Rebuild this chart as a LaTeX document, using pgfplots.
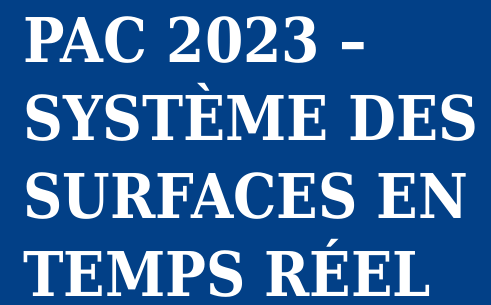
\documentclass[border=0pt]{standalone}
\usepackage{pgfplots}
\pgfplotsset{compat=1.18}
\usepackage{fontspec}
\setmainfont{DejaVu Serif}
\definecolor{bg}{RGB}{2,64,135}
\newcommand\fitline[2]{%
  \setbox0\hbox{\fontsize{61.7}{70}\bfseries #2}%
  \pgfmathsetmacro\sx{#1/\the\wd0}%
  \scalebox{\sx}[1]{\box0}}
\begin{document}
\begin{tikzpicture}
\begin{axis}[
  scale only axis, width=491pt, height=305pt,
  xmin=0, xmax=491, ymin=0, ymax=305,
  axis lines=none, ticks=none,
  axis background/.style={fill=bg},
  clip=false,
]
\node[anchor=base west, inner sep=0, text=white] at (axis cs:23,242) {\fitline{344pt}{PAC 2023 –}};
\node[anchor=base west, inner sep=0, text=white] at (axis cs:23,164) {\fitline{455pt}{SYSTÈME DES}};
\node[anchor=base west, inner sep=0, text=white] at (axis cs:23,86) {\fitline{445pt}{SURFACES EN}};
\node[anchor=base west, inner sep=0, text=white] at (axis cs:23,8) {\fitline{408pt}{TEMPS RÉEL}};
\end{axis}
\end{tikzpicture}
\end{document}
